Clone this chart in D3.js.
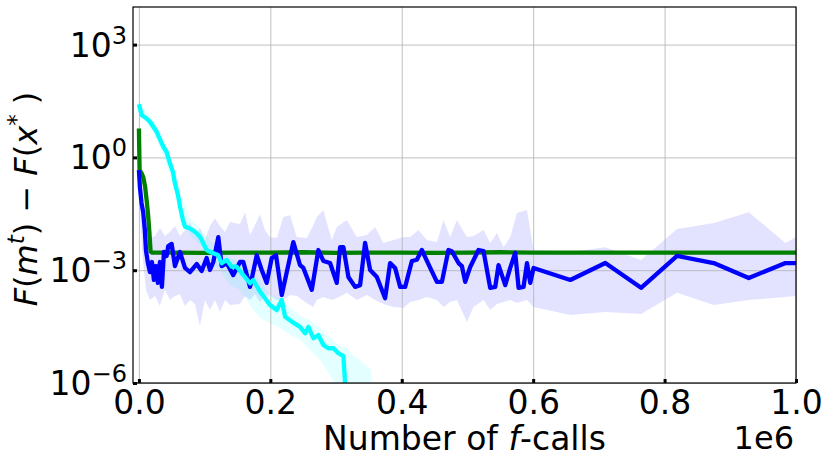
<!DOCTYPE html>
<html>
<head>
<meta charset="utf-8">
<script src="https://cdn.jsdelivr.net/npm/d3@7/dist/d3.min.js"></script>
<style>
  body { margin: 0; background: #fff; }
  text { font-family: "DejaVu Sans", sans-serif; fill: #000; }
</style>
</head>
<body>
<div id="vis-container"></div>
<script>
// width and height
const w = 831
const h = 466
const plotLeft = 133, plotRight = 796, plotTop = 7, plotBottom = 383;

// tick values / labels
const xTicks = [0, 200000, 400000, 600000, 800000, 1000000];
const xTickLabels = ["0.0", "0.2", "0.4", "0.6", "0.8", "1.0"];
const yTicks = [1e-6, 1e-3, 1, 1e3];
const yTickExps = ["\u22126", "\u22123", "0", "3"];

// green series (f-calls, gap)
const greenX = [0, 1000, 4000, 6600, 9500, 11700, 14000, 15700, 17800, 20000, 50000, 100000, 150000, 200000, 250000, 300000, 350000, 400000, 450000, 500000, 550000, 600000, 700000, 800000, 900000, 1000000];
const greenY = [5.9, 0.46, 0.38, 0.30, 0.163, 0.074, 0.029, 0.0117, 3.1e-3, 2.95e-3, 2.95e-3, 2.9e-3, 2.95e-3, 2.95e-3, 3.0e-3, 2.9e-3, 2.95e-3, 2.95e-3, 2.9e-3, 2.95e-3, 3.0e-3, 2.95e-3, 2.95e-3, 2.95e-3, 2.95e-3, 2.95e-3];

// blue series
const blueX = [0, 1500, 4000, 6500, 9000, 10700, 13700, 16800, 19800, 22800, 25900, 28900, 32000, 35000, 38100, 42200, 44600, 49800, 54800, 62500, 70100, 77700, 87900, 95500, 103100, 108100, 113200, 120800, 126000, 133600, 143600, 153800, 158900, 169100, 179300, 186900, 194500, 202100, 208700, 217400, 235000, 245200, 250300, 263100, 273100, 280700, 290900, 301100, 306200, 311200, 318800, 329000, 336600, 344200, 351900, 362100, 374700, 382300, 389900, 397600, 405200, 415400, 423000, 430600, 443300, 453500, 461100, 471100, 476300, 486400, 491500, 496600, 504200, 516800, 524500, 534600, 542300, 547300, 557500, 565100, 572700, 577800, 585400, 590600, 595600, 600600, 656500, 709800, 764200, 819000, 874800, 928100, 984000, 1000000];
const blueY = [0.46, 0.163, 0.061, 0.035, 0.0117, 3.4e-3, 1.55e-3, 8.9e-4, 1.65e-3, 5.5e-4, 1.29e-3, 4.6e-4, 1.65e-3, 3.6e-4, 3.05e-3, 2.39e-3, 4.4e-3, 5.0e-3, 1.29e-3, 3.05e-3, 1.15e-3, 8.9e-4, 1.46e-3, 9.5e-4, 2.1e-3, 1.01e-3, 1.65e-3, 7.6e-3, 1.29e-3, 1.55e-3, 7.4e-4, 1.65e-3, 1.65e-3, 3.6e-4, 2.5e-3, 1.01e-3, 4.6e-4, 2.1e-3, 2.5e-3, 2.2e-4, 5.6e-3, 1.37e-3, 1.15e-3, 3.0e-4, 3.44e-3, 1.76e-3, 1.55e-3, 4.6e-4, 4.1e-3, 4.1e-3, 6.6e-4, 3.6e-4, 4.0e-4, 5.3e-3, 1.01e-3, 6.6e-4, 1.8e-4, 1.55e-3, 1.15e-3, 3.6e-4, 3.6e-4, 1.76e-3, 1.9e-3, 3.44e-3, 1.15e-3, 4.9e-4, 4.9e-4, 3.44e-3, 3.2e-3, 1.55e-3, 1.29e-3, 4.9e-4, 1.22e-3, 3.44e-3, 3.2e-3, 3.4e-4, 3.6e-4, 1.37e-3, 4.0e-4, 1.15e-3, 2.9e-3, 3.4e-4, 3.6e-4, 1.55e-3, 4.6e-4, 1.15e-3, 5.5e-4, 1.55e-3, 3.4e-4, 2.39e-3, 1.55e-3, 6.2e-4, 1.55e-3, 1.55e-3];

// blue spread band
const blueBandX = [0, 3000, 6100, 10700, 16800, 24400, 32000, 39600, 47200, 54800, 62500, 70100, 77700, 85300, 92900, 100500, 108100, 115800, 123400, 131000, 138600, 153800, 161500, 169100, 176700, 184300, 191900, 199500, 209700, 219800, 230000, 240200, 255400, 265500, 270700, 280700, 293500, 301100, 316400, 331600, 346800, 359500, 372100, 387400, 402600, 412800, 425400, 438200, 453500, 463500, 473700, 483900, 499200, 509200, 524500, 534600, 544900, 554900, 565100, 575300, 590600, 600600, 656500, 709800, 764200, 819000, 874800, 928100, 984000, 1000000];
const blueBandHi = [0.52, 0.136, 0.054, 0.016, 7.2e-3, 8.1e-3, 0.0132, 8.1e-3, 0.0104, 0.015, 8.1e-3, 0.0117, 0.019, 8.1e-3, 0.0132, 6.4e-3, 0.015, 0.024, 0.015, 0.0104, 0.019, 0.017, 0.035, 8.6e-3, 0.016, 0.031, 0.0117, 7.6e-3, 7.2e-3, 0.026, 0.029, 7.6e-3, 7.2e-3, 0.016, 0.026, 0.040, 6.4e-3, 0.014, 0.0216, 7.6e-3, 8.6e-3, 0.014, 5.3e-3, 6.4e-3, 7.6e-3, 7.6e-3, 0.0117, 6.4e-3, 5.6e-3, 0.0216, 7.6e-3, 0.0216, 7.6e-3, 8.1e-3, 0.0117, 5.3e-3, 9.8e-3, 4.1e-3, 7.6e-3, 0.033, 0.040, 3.44e-3, 3.05e-3, 4.1e-3, 1.87e-3, 0.0125, 0.018, 0.035, 5.3e-3, 7.6e-3];
const blueBandLo = [0.34, 0.0117, 1.87e-3, 3.0e-4, 1.61e-4, 2.06e-4, 1.12e-4, 3.0e-4, 1.61e-4, 2.06e-4, 2.3e-4, 1.12e-4, 1.61e-4, 1.26e-4, 3.3e-5, 1.61e-4, 8.7e-5, 1.61e-4, 7.7e-5, 1.61e-4, 1.19e-4, 1.26e-4, 2.06e-4, 1.61e-4, 2.3e-4, 1.43e-4, 2.06e-4, 2.2e-4, 1.61e-4, 1.61e-4, 2.2e-4, 2.06e-4, 1.34e-4, 1.05e-4, 1.61e-4, 1.94e-4, 1.61e-4, 1.8e-4, 2.5e-4, 1.61e-4, 2.2e-4, 1.61e-4, 1.26e-4, 1.05e-4, 9.9e-5, 1.43e-4, 1.61e-4, 1.94e-4, 1.61e-4, 1.05e-4, 1.43e-4, 1.61e-4, 4.2e-5, 1.05e-4, 1.61e-4, 8.7e-5, 1.26e-4, 1.43e-4, 1.61e-4, 1.34e-4, 1.61e-4, 1.05e-4, 6.4e-5, 7.7e-5, 6.8e-5, 2.5e-4, 1.19e-4, 1.61e-4, 1.94e-4, 2.06e-4];

// cyan series
const cyanX = [0, 4100, 10700, 16800, 27000, 37000, 42200, 47200, 51800, 54800, 59400, 62500, 67000, 70100, 77700, 85300, 92900, 103100, 108100, 120800, 126000, 133600, 141200, 148800, 158900, 169100, 174100, 184300, 191900, 199500, 209700, 217400, 222400, 232600, 245200, 252900, 257900, 265500, 273100, 280700, 288300, 296000, 303600, 311200, 313800, 315500];
const cyanY = [26, 13.4, 11.2, 8.9, 4.8, 1.93, 1.39, 0.70, 0.41, 0.205, 0.10, 0.049, 0.0216, 0.0144, 0.0129, 0.0106, 7.8e-3, 3.44e-3, 3.1e-3, 2.5e-3, 1.53e-3, 1.87e-3, 1.24e-3, 1.24e-3, 7.4e-4, 4.5e-4, 5.5e-4, 2.7e-4, 1.8e-4, 1.19e-4, 8.7e-5, 1.61e-4, 5.8e-5, 4.3e-5, 3.1e-5, 2.1e-5, 3.1e-5, 1.55e-5, 1.9e-5, 1.03e-5, 8.4e-6, 8.4e-6, 6.2e-6, 5.2e-6, 1e-6, 5e-8];

// cyan spread band
const cyanBandX = [0, 9100, 24400, 36600, 47200, 57900, 67000, 77700, 92900, 108100, 123400, 138600, 153800, 169100, 184300, 199500, 214800, 230000, 245200, 260500, 275700, 290900, 306200, 315300, 324400, 336600, 353400];
const cyanBandHi = [33.6, 18.2, 8.7, 2.9, 1.16, 0.28, 0.074, 0.024, 0.0132, 6.4e-3, 3.9e-3, 2.1e-3, 1.65e-3, 1.01e-3, 5.5e-4, 2.2e-4, 1.8e-4, 9.9e-5, 6.1e-5, 4.7e-5, 2.9e-5, 1.6e-5, 9.6e-6, 9.3e-6, 5.6e-6, 4.1e-6, 2.2e-6];
const cyanBandLo = [18.2, 9.9, 3.9, 1.16, 0.34, 0.10, 0.029, 8.1e-3, 4.7e-3, 1.65e-3, 1.01e-3, 4.0e-4, 3.0e-4, 1.19e-4, 5.4e-5, 3.9e-5, 2.9e-5, 1.9e-5, 1.4e-5, 7.6e-6, 4.1e-6, 1.6e-6, 5e-7, 5e-7, 5e-7, 5e-7, 5e-7];

//scale function
var xScale = d3.scaleLinear()
    .domain([-9000, 1000000])
    .range([plotLeft, plotRight]);

var yScale = d3.scaleLog()
    .domain([1e-6, 1e4])
    .range([plotBottom, plotTop]);

//create svg element
var svg = d3.select("#vis-container")
    .append("svg")
    .attr("width", w)
    .attr("height", h);

svg.append("clipPath")
    .attr("id", "plot-clip")
    .append("rect")
    .attr("x", plotLeft)
    .attr("y", plotTop)
    .attr("width", plotRight - plotLeft)
    .attr("height", plotBottom - plotTop);

var line = d3.line()
    .x(d => xScale(d[0]))
    .y(d => yScale(d[1]));

var area = d3.area()
    .x(d => xScale(d[0]))
    .y0(d => yScale(d[1]))
    .y1(d => yScale(d[2]));

var bands = svg.append("g").attr("clip-path", "url(#plot-clip)");

// spread bands (below grid)
bands.append("path")
    .datum(d3.zip(blueBandX, blueBandLo, blueBandHi))
    .attr("d", area)
    .attr("fill", "blue")
    .attr("fill-opacity", 0.11);

bands.append("path")
    .datum(d3.zip(cyanBandX, cyanBandLo, cyanBandHi))
    .attr("d", area)
    .attr("fill", "cyan")
    .attr("fill-opacity", 0.11);

// grid lines
var xGrid = d3.axisBottom(xScale).tickValues(xTicks).tickSize(-(plotBottom - plotTop)).tickFormat("");
svg.append("g")
    .attr("class", "grid")
    .attr("transform", "translate(0," + plotBottom + ")")
    .call(xGrid);

var yGrid = d3.axisLeft(yScale).tickValues(yTicks).tickSize(-(plotRight - plotLeft)).tickFormat("");
svg.append("g")
    .attr("class", "grid")
    .attr("transform", "translate(" + plotLeft + ",0)")
    .call(yGrid);

svg.selectAll(".grid .domain").remove();
svg.selectAll(".grid line")
    .attr("stroke", "#b0b0b0")
    .attr("stroke-width", 0.8);

// lines
var plot = svg.append("g").attr("clip-path", "url(#plot-clip)");
var series = [
    [greenX, greenY, "green"],
    [blueX, blueY, "blue"],
    [cyanX, cyanY, "cyan"]
];
series.forEach(s => {
    plot.append("path")
        .datum(d3.zip(s[0], s[1]))
        .attr("d", line)
        .attr("fill", "none")
        .attr("stroke", s[2])
        .attr("stroke-width", 4.3)
        .attr("stroke-linejoin", "round");
});

// frame
svg.append("rect")
    .attr("x", plotLeft)
    .attr("y", plotTop)
    .attr("width", plotRight - plotLeft)
    .attr("height", plotBottom - plotTop)
    .attr("fill", "none")
    .attr("stroke", "#000")
    .attr("stroke-width", 1.2);

// x axis ticks + labels
var xAxis = d3.axisBottom(xScale).tickValues(xTicks).tickSize(-4).tickFormat((d, i) => xTickLabels[i]);
var gx = svg.append("g")
    .attr("class", "x axis")
    .attr("transform", "translate(0," + plotBottom + ")")
    .call(xAxis);
gx.select(".domain").remove();
gx.selectAll("line").attr("stroke", "#000").attr("stroke-width", 3);
gx.selectAll("text")
    .attr("y", 31)
    .attr("dy", null)
    .attr("fill", "#000")
    .style("font-size", "33px")
    .style("font-family", "DejaVu Sans");

// y axis ticks + labels
var yAxis = d3.axisLeft(yScale).tickValues(yTicks).tickSize(-4).tickFormat("");
var gy = svg.append("g")
    .attr("class", "y axis")
    .attr("transform", "translate(" + plotLeft + ",0)")
    .call(yAxis);
gy.select(".domain").remove();
gy.selectAll("line").attr("stroke", "#000").attr("stroke-width", 3);

yTicks.forEach((t, i) => {
    var lbl = svg.append("text")
        .attr("x", 127)
        .attr("y", yScale(t) + 12)
        .style("text-anchor", "end")
        .style("font-size", "33px");
    lbl.append("tspan").text("10");
    lbl.append("tspan")
        .attr("dy", -13)
        .style("font-size", "24px")
        .text(yTickExps[i]);
});

// x label
var xl = svg.append("text")
    .attr("x", (plotLeft + plotRight) / 2)
    .attr("y", 450)
    .style("text-anchor", "middle")
    .style("font-size", "33px");
xl.append("tspan").text("Number of ");
xl.append("tspan").style("font-style", "italic").text("f");
xl.append("tspan").text("-calls");

// offset text
svg.append("text")
    .attr("x", plotRight - 2)
    .attr("y", 449)
    .style("text-anchor", "end")
    .style("font-size", "32px")
    .text("1e6");

// y label
var yl = svg.append("text")
    .attr("transform", "translate(37," + 199 + ") rotate(-90)")
    .style("text-anchor", "middle")
    .style("font-size", "32px");
yl.append("tspan").style("font-style", "italic").text("F");
yl.append("tspan").text("(");
yl.append("tspan").style("font-style", "italic").text("m");
yl.append("tspan").attr("dy", -13).style("font-style", "italic").style("font-size", "23px").text("t");
yl.append("tspan").attr("dy", 13).text(") \u2212 ");
yl.append("tspan").style("font-style", "italic").text("F");
yl.append("tspan").text("(");
yl.append("tspan").style("font-style", "italic").text("x");
yl.append("tspan").attr("dy", -13).style("font-size", "23px").text("*");
yl.append("tspan").attr("dy", 13).text(" )");
</script>
</body>
</html>
